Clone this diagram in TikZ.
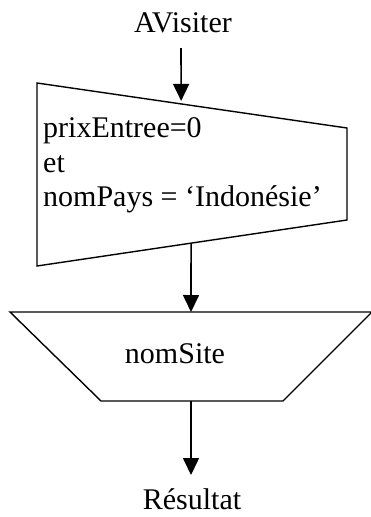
\documentclass[tikz,border=0pt]{standalone}
\usepackage{fontspec}
\setmainfont{Liberation Serif}
\usetikzlibrary{arrows.meta,calc}
\begin{document}
\begin{tikzpicture}[x=1pt,y=-1pt,
  lbl/.style={inner sep=0pt,font=\fontsize{30}{36}\selectfont},
  shapeline/.style={line width=1.4pt,line join=miter},
  flow/.style={line width=1.6pt,-{Triangle[length=17pt,width=16pt]}}]
  \useasboundingbox (0,0) rectangle (370,517);

  % input relation
  \node[lbl,anchor=base] (input) at (183,32) {AVisiter};

  % selection: slanted box
  \draw[shapeline] (37,83) coordinate (s1) -- (347,128) coordinate (s2)
    -- (347,220) coordinate (s3) -- (37,266) coordinate (s4) -- cycle;
  \node[lbl,anchor=base west] (c1) at (43,137) {prixEntree=0};
  \node[lbl,anchor=base west] (c2) at (43,172) {et};
  \node[lbl,anchor=base west] (c3) at (43,206) {nomPays = ‘Indonésie’};
  \coordinate (selIn) at ($(s1)!0.465!(s2)$);
  \coordinate (selOut) at ($(s4)!0.497!(s3)$);

  % projection: inverted trapezoid
  \draw[shapeline] (10,312) coordinate (p1) -- (372,312) coordinate (p2)
    -- (283,401) coordinate (p3) -- (101,401) coordinate (p4) -- cycle;
  \node[lbl,anchor=base] (proj) at (175,363) {nomSite};
  \coordinate (projIn) at (191,312);
  \coordinate (projOut) at (191,401);

  % result
  \node[lbl,anchor=base] (result) at (192,509) {Résultat};

  % flow arrows
  \coordinate (a0) at (181,48);
  \draw[flow] (a0) -- ($(selIn)+(0,-3)$);
  \draw[flow] (selOut) -- (projIn);
  \coordinate (r0) at (191,475);
  \draw[flow] (projOut) -- (r0);
\end{tikzpicture}
\end{document}
